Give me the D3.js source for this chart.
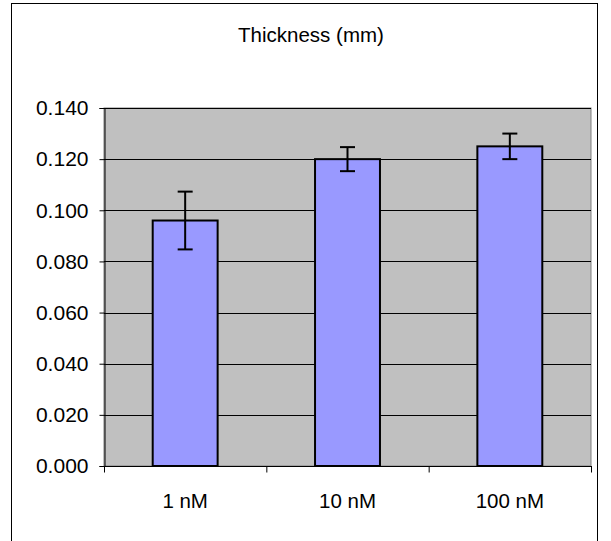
<!DOCTYPE html>
<html><head><meta charset="utf-8">
<script src="https://cdn.jsdelivr.net/npm/d3@7"></script>
<style>html,body{margin:0;padding:0;background:#fff;}svg{display:block;}</style>
</head><body>
<script>
const categories = ["1 nM", "10 nM", "100 nM"];
const values = [0.096, 0.120, 0.125];
const errors = [0.0113, 0.0047, 0.005];
const yTicks = [0, 0.02, 0.04, 0.06, 0.08, 0.10, 0.12, 0.14];
const title = "Thickness (mm)";

const W = 611, H = 541;
const svg = d3.select("body").append("svg").attr("width", W).attr("height", H);
const font = "'Liberation Sans', Arial, sans-serif";

svg.append("rect").attr("x", 11.5).attr("y", 3.5).attr("width", 586).attr("height", 560)
  .attr("fill", "#fff").attr("stroke", "#000").attr("stroke-width", 1);

const L = 104, R = 591, T = 108, B = 466;
const x = d3.scaleBand().domain(categories).range([L, R]).padding(0);
const y = d3.scaleLinear().domain([0, 0.14]).range([B, T]);

svg.append("rect").attr("x", L).attr("y", T).attr("width", R - L).attr("height", B - T)
  .attr("fill", "#C0C0C0").attr("stroke", "#808080").attr("stroke-width", 1);

svg.append("g").selectAll("line").data(yTicks.filter(d => d > 0)).join("line")
  .attr("x1", L).attr("x2", R).attr("y1", d => Math.round(y(d)) + 0.5).attr("y2", d => Math.round(y(d)) + 0.5)
  .attr("stroke", "#000").attr("stroke-width", 1);

const bw = x.bandwidth() * 0.4;
svg.append("g").selectAll("rect").data(categories).join("rect")
  .attr("x", (d) => x(d) + x.bandwidth() / 2 - bw / 2)
  .attr("y", (d, i) => y(values[i]))
  .attr("width", bw)
  .attr("height", (d, i) => B - y(values[i]))
  .attr("fill", "#9999FF").attr("stroke", "#000").attr("stroke-width", 2);

const eg = svg.append("g").attr("stroke", "#000").attr("stroke-width", 2);
categories.forEach((c, i) => {
  const cx = x(c) + x.bandwidth() / 2;
  const y1 = y(values[i] + errors[i]), y2 = y(values[i] - errors[i]);
  eg.append("line").attr("x1", cx).attr("x2", cx).attr("y1", y1).attr("y2", y2);
  eg.append("line").attr("x1", cx - 7.5).attr("x2", cx + 7.5).attr("y1", y1).attr("y2", y1);
  eg.append("line").attr("x1", cx - 7.5).attr("x2", cx + 7.5).attr("y1", y2).attr("y2", y2);
});

const yAxis = d3.axisLeft(y).tickValues(yTicks).tickFormat(d3.format(".3f")).tickSize(5).tickPadding(11);
const ya = svg.append("g").attr("transform", `translate(${L + 0.5},0)`).call(yAxis);
ya.selectAll("text").attr("font-family", font).attr("font-size", 21).attr("fill", "#000");
ya.selectAll("line,path").attr("stroke", "#000");

const xa = svg.append("g").attr("transform", `translate(0,${B + 0.5})`);
xa.append("line").attr("x1", L).attr("x2", R + 1).attr("stroke", "#000");
xa.selectAll("line.t").data(categories.map(c => x(c)).concat([R])).join("line").attr("class", "t")
  .attr("x1", d => d + 0.5).attr("x2", d => d + 0.5).attr("y1", 0).attr("y2", 6).attr("stroke", "#000");
xa.selectAll("text").data(categories).join("text")
  .attr("x", d => x(d) + x.bandwidth() / 2).attr("y", 41)
  .attr("text-anchor", "middle").attr("font-family", font).attr("font-size", 20.5).text(d => d);

svg.append("text").attr("x", 311).attr("y", 42).attr("text-anchor", "middle")
  .attr("font-family", font).attr("font-size", 20.5).text(title);
</script>
</body></html>
